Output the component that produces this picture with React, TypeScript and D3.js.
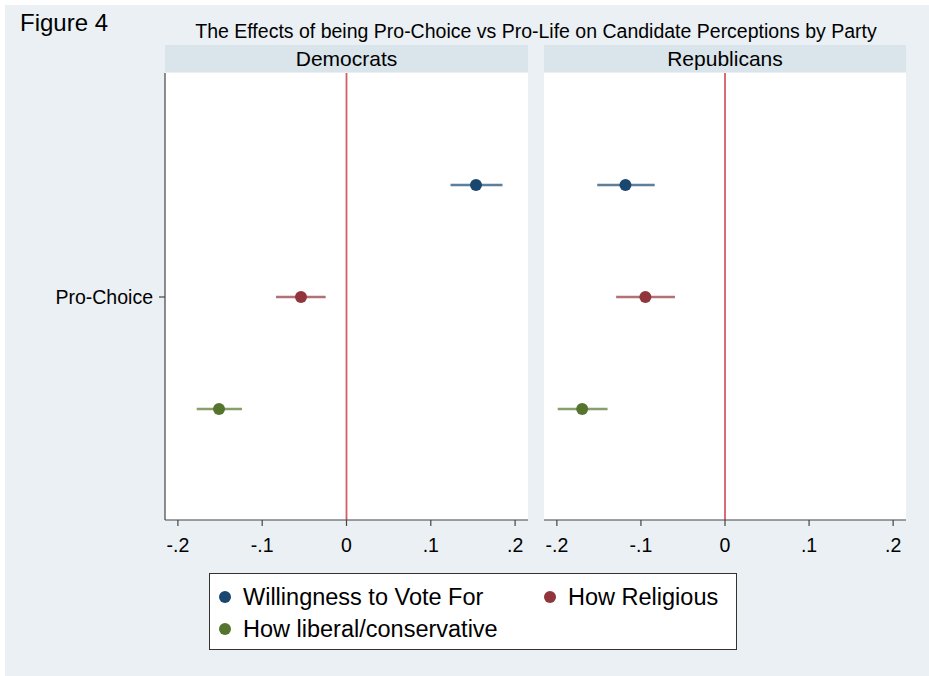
import React from "react";
import * as d3 from "d3";

const panels = ["Democrats", "Republicans"];
const series = ["Willingness to Vote For", "How Religious", "How liberal/conservative"];
const colors = ["#1a476f", "#90353b", "#55752f"];
const demEst = [0.1536, -0.054, -0.1512];
const demLo = [0.1234, -0.0836, -0.1777];
const demHi = [0.1851, -0.0247, -0.124];
const repEst = [-0.1184, -0.0947, -0.1699];
const repLo = [-0.152, -0.1295, -0.199];
const repHi = [-0.0836, -0.0595, -0.1397];
const xTicks = [-0.2, -0.1, 0, 0.1, 0.2];
const yCategory = "Pro-Choice";
const title = "The Effects of being Pro-Choice vs Pro-Life on Candidate Perceptions by Party";
const figLabel = "Figure 4";

const FONT = "'Liberation Sans', Arial, Helvetica, sans-serif";

export default function App() {
  const W = 929, H = 676;
  const plotTop = 73, plotBottom = 520;
  const panelRanges: [number, number][] = [[165, 528], [544, 906]];
  const data = [
    { est: demEst, lo: demLo, hi: demHi },
    { est: repEst, lo: repLo, hi: repHi },
  ];
  const y = d3.scaleLinear().domain([0, 4]).range([plotTop, plotBottom + 1]);
  const fmt = (v: number) =>
    v === 0 ? "0" : d3.format(".1f")(v).replace("\u2212", "-").replace("0.", ".");

  return (
    <svg width={W} height={H} style={{ position: "absolute", left: 0, top: 0 }} fontFamily={FONT}>
      <rect x={0} y={0} width={W} height={H} fill="#ffffff" />
      <rect x={5} y={5} width={W - 5} height={H - 5} fill="#eaf0f3" />
      <text x={20} y={31} fontSize={24} fill="#000">{figLabel}</text>
      <text x={536} y={38} fontSize={19.5} textAnchor="middle" fill="#000">{title}</text>
      {panels.map((p, pi) => {
        const [x0, x1] = panelRanges[pi];
        const x = d3.scaleLinear().domain([-0.2153, 0.2153]).range([x0, x1]);
        const d = data[pi];
        return (
          <g key={p}>
            <rect x={x0} y={45} width={x1 - x0} height={27} fill="#d9e4eb" />
            <text x={(x0 + x1) / 2} y={66} fontSize={21} textAnchor="middle" fill="#000">{p}</text>
            <rect x={x0} y={plotTop} width={x1 - x0} height={plotBottom - plotTop} fill="#ffffff" />
            <line x1={x(0)} x2={x(0)} y1={plotTop} y2={plotBottom} stroke="#d65c6a" strokeWidth={1.8} />
            {series.map((s, si) => (
              <g key={s}>
                <line x1={x(d.lo[si])} x2={x(d.hi[si])} y1={y(si + 1)} y2={y(si + 1)}
                  stroke={colors[si]} strokeOpacity={0.7} strokeWidth={2.4} />
                <circle cx={x(d.est[si])} cy={y(si + 1)} r={6} fill={colors[si]} />
              </g>
            ))}
            <line x1={x0} x2={x1} y1={plotBottom} y2={plotBottom} stroke="#444" strokeWidth={1.2} />
            {xTicks.map((t) => (
              <g key={t}>
                <line x1={x(t)} x2={x(t)} y1={plotBottom} y2={plotBottom + 6} stroke="#444" strokeWidth={1.2} />
                <text x={x(t)} y={552} fontSize={19.5} textAnchor="middle" fill="#000">{fmt(t)}</text>
              </g>
            ))}
            {pi === 0 && (
              <g>
                <line x1={x0} x2={x0} y1={plotTop} y2={plotBottom} stroke="#444" strokeWidth={1.2} />
                <line x1={x0 - 6} x2={x0} y1={y(2)} y2={y(2)} stroke="#444" strokeWidth={1.2} />
                <text x={x0 - 12} y={y(2) + 7} fontSize={19.5} textAnchor="end" fill="#000">{yCategory}</text>
              </g>
            )}
          </g>
        );
      })}
      <rect x={209.5} y={573.5} width={527} height={76} fill="#ffffff" stroke="#333" strokeWidth={1} />
      {series.map((s, si) => {
        const col = si === 1 ? 1 : 0;
        const row = si === 2 ? 1 : 0;
        const cx = col === 0 ? 225 : 550;
        const cy = 597 + row * 32;
        return (
          <g key={s}>
            <circle cx={cx} cy={cy} r={6} fill={colors[si]} />
            <text x={cx + 18} y={cy + 8} fontSize={23.5} fill="#000">{s}</text>
          </g>
        );
      })}
    </svg>
  );
}
